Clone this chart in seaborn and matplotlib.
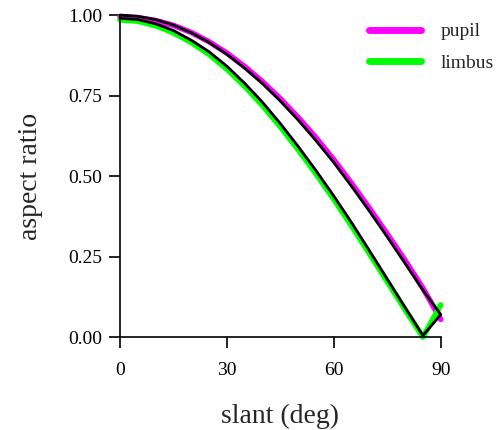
import numpy as np
import pandas as pd
import matplotlib
matplotlib.use('Agg')
import matplotlib.pyplot as plt
import seaborn as sns

# slant in degrees
slant = [0, 5, 10, 15, 20, 25, 30, 35, 40, 45, 50, 55, 60, 65, 70, 75, 80, 85, 90]

# measured aspect ratios
pupil = [0.995, 0.992, 0.983, 0.968, 0.946, 0.917, 0.882, 0.840, 0.793, 0.740,
         0.682, 0.619, 0.551, 0.477, 0.400, 0.320, 0.238, 0.152, 0.055]
limbus = [0.985, 0.981, 0.967, 0.945, 0.915, 0.878, 0.832, 0.779, 0.719, 0.653,
          0.582, 0.507, 0.428, 0.345, 0.259, 0.172, 0.085, 0.0, 0.10]

# model fits (black)
pupil_fit = [1.0, 0.996, 0.986, 0.969, 0.945, 0.915, 0.878, 0.835, 0.787, 0.733,
             0.674, 0.610, 0.542, 0.468, 0.391, 0.311, 0.229, 0.146, 0.07]
limbus_fit = [0.99, 0.986, 0.973, 0.952, 0.922, 0.886, 0.841, 0.788, 0.729, 0.663,
              0.592, 0.517, 0.438, 0.355, 0.268, 0.180, 0.092, 0.005, 0.07]

df = pd.DataFrame({'slant': slant * 2,
                   'ratio': pupil + limbus,
                   'eye': ['pupil'] * len(slant) + ['limbus'] * len(slant)})

sns.set_style('ticks')
plt.rcParams['font.family'] = ['Liberation Serif', 'DejaVu Serif']

fig = plt.figure(figsize=(5.02, 4.30), dpi=100)
ax = fig.add_axes([0.239, 0.216, 0.639, 0.749])

sns.lineplot(data=df, x='slant', y='ratio', hue='eye',
             palette={'pupil': '#ff00ff', 'limbus': '#00ff00'},
             linewidth=4, ax=ax, clip_on=False)
ax.plot(slant, pupil_fit, color='black', lw=2, clip_on=False)
ax.plot(slant, limbus_fit, color='black', lw=2, clip_on=False)

ax.set_xlim(0, 90)
ax.set_ylim(0, 1)
ax.set_xticks([0, 30, 60, 90])
ax.set_yticks([0, 0.25, 0.5, 0.75, 1.0])
ax.set_yticklabels(['0.00', '0.25', '0.50', '0.75', '1.00'])
ax.tick_params(direction='out', length=8, width=1.2, labelsize=14, colors='black')
ax.tick_params(axis='x', pad=10)
ax.tick_params(axis='y', pad=5)
for s in ['left', 'bottom']:
    ax.spines[s].set_linewidth(1.2)
    ax.spines[s].set_color('black')
sns.despine(ax=ax)

ax.set_xlabel('slant (deg)', fontsize=20, labelpad=18)
ax.set_ylabel('aspect ratio', fontsize=20, labelpad=18)

leg = ax.legend(loc='upper right', bbox_to_anchor=(1.22, 1.03), frameon=False,
                fontsize=14, handlelength=2.7, handletextpad=1.0, labelspacing=0.7)
for line in leg.get_lines():
    line.set_linewidth(5)

fig.savefig('out.png', dpi=100)
